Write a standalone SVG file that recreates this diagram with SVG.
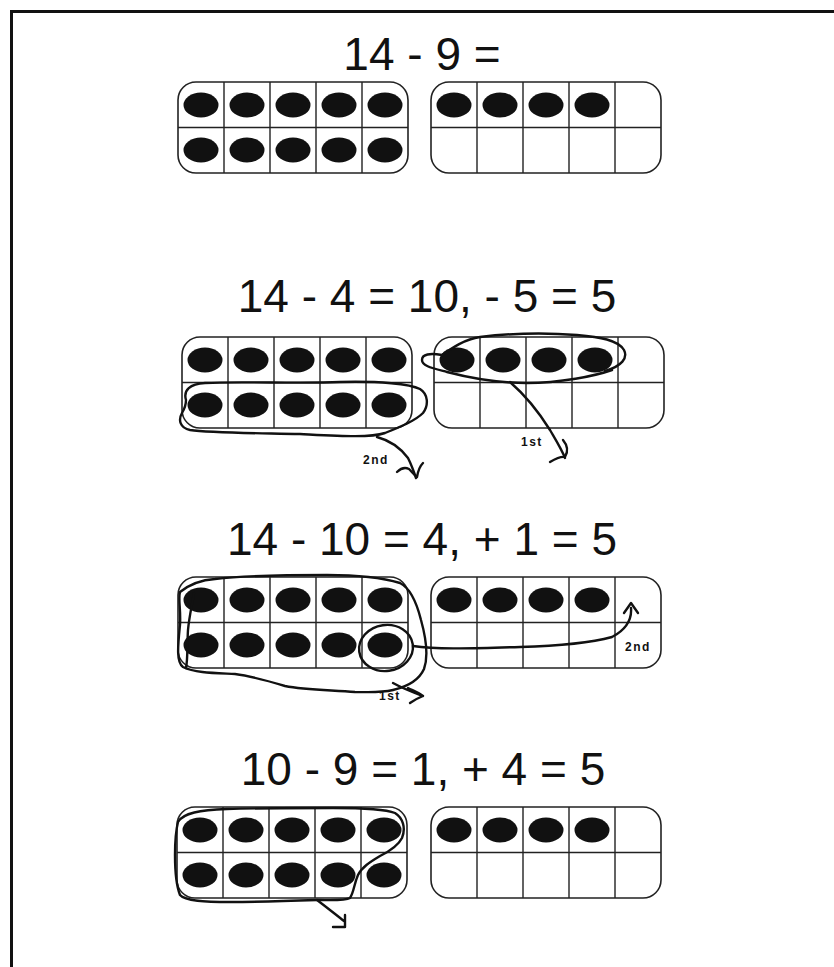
<svg xmlns="http://www.w3.org/2000/svg" xmlns:xlink="http://www.w3.org/1999/xlink" width="834" height="967" viewBox="0 0 834 967">
<style>
.title{font-family:"Liberation Sans",Arial,sans-serif;font-size:46px;fill:#111;text-anchor:middle}
.lbl{font-family:"Liberation Sans",Arial,sans-serif;font-size:12px;font-weight:bold;fill:#111;letter-spacing:1.5px}
.pen{fill:none;stroke:#111;stroke-width:2.4;stroke-linecap:round;stroke-linejoin:round}
.dot{fill:#111}
</style>
<defs>
<g id="frame">
<rect x="0" y="0" width="230" height="91" rx="18" ry="18" fill="#fff" stroke="#222" stroke-width="1.6"/>
<path d="M46 0V91M92 0V91M138 0V91M184 0V91M0 45.5H230" stroke="#222" stroke-width="1.4" fill="none"/>
</g>
<ellipse id="d" class="dot" cx="0" cy="0" rx="17.5" ry="12.5"/>
<g id="row5"><use xlink:href="#d" x="23" y="0"/><use xlink:href="#d" x="69" y="0"/><use xlink:href="#d" x="115" y="0"/><use xlink:href="#d" x="161" y="0"/><use xlink:href="#d" x="207" y="0"/></g>
<g id="row4"><use xlink:href="#d" x="23" y="0"/><use xlink:href="#d" x="69" y="0"/><use xlink:href="#d" x="115" y="0"/><use xlink:href="#d" x="161" y="0"/></g>
<g id="full"><use xlink:href="#frame"/><use xlink:href="#row5" y="23"/><use xlink:href="#row5" y="68"/></g>
<g id="four"><use xlink:href="#frame"/><use xlink:href="#row4" y="23"/></g>
</defs>
<rect width="834" height="967" fill="#fff"/>
<path d="M11.5 967V11.5H834" fill="none" stroke="#111" stroke-width="3"/>

<g id="sec1">
<text class="title" x="422" y="70">14 - 9 =</text>
<g id="s1-left"><use xlink:href="#full" x="178" y="82"/></g>
<g id="s1-right"><use xlink:href="#four" x="431" y="82"/></g>
</g>

<g id="sec2">
<text class="title" x="427" y="312">14 - 4 = 10, - 5 = 5</text>
<g id="s2-left"><use xlink:href="#full" x="182" y="337"/></g>
<g id="s2-right"><use xlink:href="#four" x="434" y="337"/></g>
</g>

<g id="sec3">
<text class="title" x="422" y="555">14 - 10 = 4, + 1 = 5</text>
<g id="s3-left"><use xlink:href="#full" x="178" y="577"/></g>
<g id="s3-right"><use xlink:href="#four" x="431" y="577"/></g>
</g>

<g id="sec4">
<text class="title" x="423" y="785">10 - 9 = 1, + 4 = 5</text>
<g id="s4-left"><use xlink:href="#full" x="177" y="807"/></g>
<g id="s4-right"><use xlink:href="#four" x="431" y="807"/></g>
</g>

<g id="connectors">
<!-- section 2: 1st loop -->
<path class="pen" d="M612 370 C595 376 560 383 527 383 C500 383 470 378 447 372 C432 368 422 366 422 360 C422 354 430 353 442 355 C452 348 465 339 480 337 C505 334 540 332 577 335 C600 337 618 340 624 350 C628 358 622 366 605 371"/>
<path class="pen" d="M510 382 C525 395 540 414 550 430 C557 442 562 450 565 458"/>
<path class="pen" d="M550 462 C555 459 560 456 565 457 M563 440 C568 446 568 452 565 457"/>
<text class="lbl" x="521" y="446">1st</text>
<!-- section 2: 2nd loop -->
<path class="pen" d="M186 400 C183 390 190 384 205 383 C240 381 300 384 340 382 C380 381 410 384 420 389 C428 394 429 405 423 413 C415 421 400 427 385 433 C370 438 340 436 300 434 C250 433 210 433 190 430 C180 428 178 420 182 413 C185 408 186 404 186 400"/>
<path class="pen" d="M377 437 C392 441 402 450 408 458 C412 466 414 472 416 478"/>
<path class="pen" d="M397 472 C401 468 405 467 409 469 C412 472 414 475 417 477 M417 477 C418 471 420 466 423 463"/>
<text class="lbl" x="363" y="464">2nd</text>
<!-- section 3: 1st loop -->
<path class="pen" d="M180 592 C190 584 200 580 215 579 C240 576 280 575 327 575 C355 575 380 577 400 583 C410 588 416 600 421 620 C426 638 429 655 424 669 C420 678 410 686 393 690 C380 693 370 692 355 692 C330 690 305 690 285 686 C265 680 250 676 235 674 C215 673 195 673 183 667 C176 662 178 645 180 625 C181 610 178 598 180 592"/>
<path class="pen" d="M194 593 C192 605 189 618 188 630 C187 645 188 658 186 668"/>
<path class="pen" d="M393 683 C402 688 412 692 423 696 M408 688 C414 691 419 693 423 696 C418 698 414 700 410 703"/>
<text class="lbl" x="379" y="700">1st</text>
<ellipse class="pen" cx="386" cy="648" rx="27" ry="23" transform="rotate(-8 386 648)"/>
<!-- section 3: 2nd -->
<path class="pen" d="M413 646 C440 650 480 648 520 647 C555 646 590 643 612 637 C625 630 632 620 631 608"/>
<path class="pen" d="M624 613 L631 603 L638 613"/>
<text class="lbl" x="625" y="651">2nd</text>
<!-- section 4 loop -->
<path class="pen" d="M178 822 C183 813 200 810 227 809 C260 808 300 808 333 808 C360 808 385 809 395 813 C403 818 406 828 402 838 C398 846 390 851 380 856 C370 862 362 867 358 875 C354 884 354 892 350 898 C345 901 330 900 317 900 C290 901 260 902 230 902 C205 902 185 901 180 895 C176 885 175 870 175 855 C175 840 176 830 178 822"/>
<path class="pen" d="M317 900 C325 906 335 914 344 921 M345 915 L345 927 L333 927"/>
</g>
</svg>
